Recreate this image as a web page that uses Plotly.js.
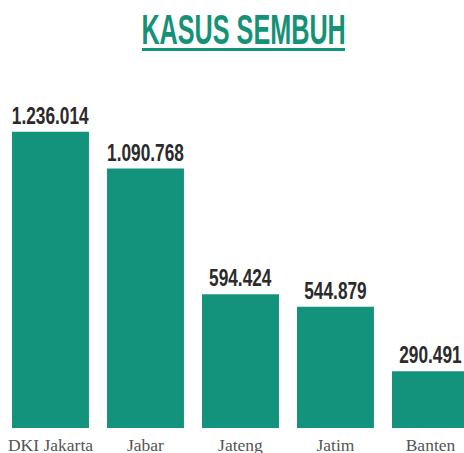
<!DOCTYPE html>
<html>
<head>
<meta charset="utf-8">
<script src="https://cdn.plot.ly/plotly-3.0.1.min.js"></script>
<style>html,body{margin:0;padding:0;background:#fff;}#chart{width:464px;height:453px;}</style>
</head>
<body>
<div id="chart"></div>
<script>
const categories = ["DKI Jakarta", "Jabar", "Jateng", "Jatim", "Banten"];
const recovered = [1236014, 1090768, 594424, 544879, 290491];
const valueLabels = ["1.236.014", "1.090.768", "594.424", "544.879", "290.491"];
const chartTitle = "KASUS SEMBUH";

const teal = "#14937c";
const headFont = "'Liberation Sans', Arial, sans-serif";

const trace = {
  type: "bar",
  x: categories,
  y: recovered,
  text: valueLabels,
  textposition: "outside",
  texttemplate: "%{text}",
  constraintext: "none",
  cliponaxis: false,
  textfont: {family: headFont, size: 24, color: "#2b2b2b", weight: 700},
  marker: {color: teal},
  hoverinfo: "none"
};

const layout = {
  width: 464,
  height: 453,
  margin: {l: 3, r: 0, t: 60, b: 25},
  paper_bgcolor: "#ffffff",
  plot_bgcolor: "#ffffff",
  bargap: 0.19,
  showlegend: false,
  title: {
    text: chartTitle,
    x: 0.525, xanchor: "center", xref: "container",
    y: 0.936, yanchor: "middle", yref: "container",
    font: {family: headFont, size: 42, color: "#159178", weight: 700}
  },
  xaxis: {
    range: [-0.5, 4.353],
    showgrid: false, zeroline: false, showline: false,
    ticks: "",
    ticklabelstandoff: 4,
    tickfont: {family: "'Liberation Serif', 'DejaVu Serif', serif", size: 17.5, color: "#555555"},
    fixedrange: true
  },
  yaxis: {
    range: [66350, 1519747],
    visible: false,
    showgrid: false, zeroline: false,
    fixedrange: true
  },
  shapes: [{
    type: "line", xref: "paper", yref: "paper",
    x0: 0.3015, x1: 0.742, y0: 1.0285, y1: 1.0285,
    line: {color: teal, width: 3}
  }]
};

function condense(el, sx) {
  const bb = el.getBBox();
  const cx = bb.x + bb.width / 2;
  const prev = el.getAttribute("transform") || "";
  el.setAttribute("transform", prev + " translate(" + cx + ",0) scale(" + sx + ",1) translate(" + (-cx) + ",0)");
}

Plotly.newPlot("chart", [trace], layout, {displayModeBar: false, staticPlot: true}).then(function (gd) {
  gd.querySelectorAll("text.bartext").forEach(function (el) { condense(el, 0.72); });
  gd.querySelectorAll(".gtitle").forEach(function (el) { condense(el, 0.6); });
});
</script>
</body>
</html>
